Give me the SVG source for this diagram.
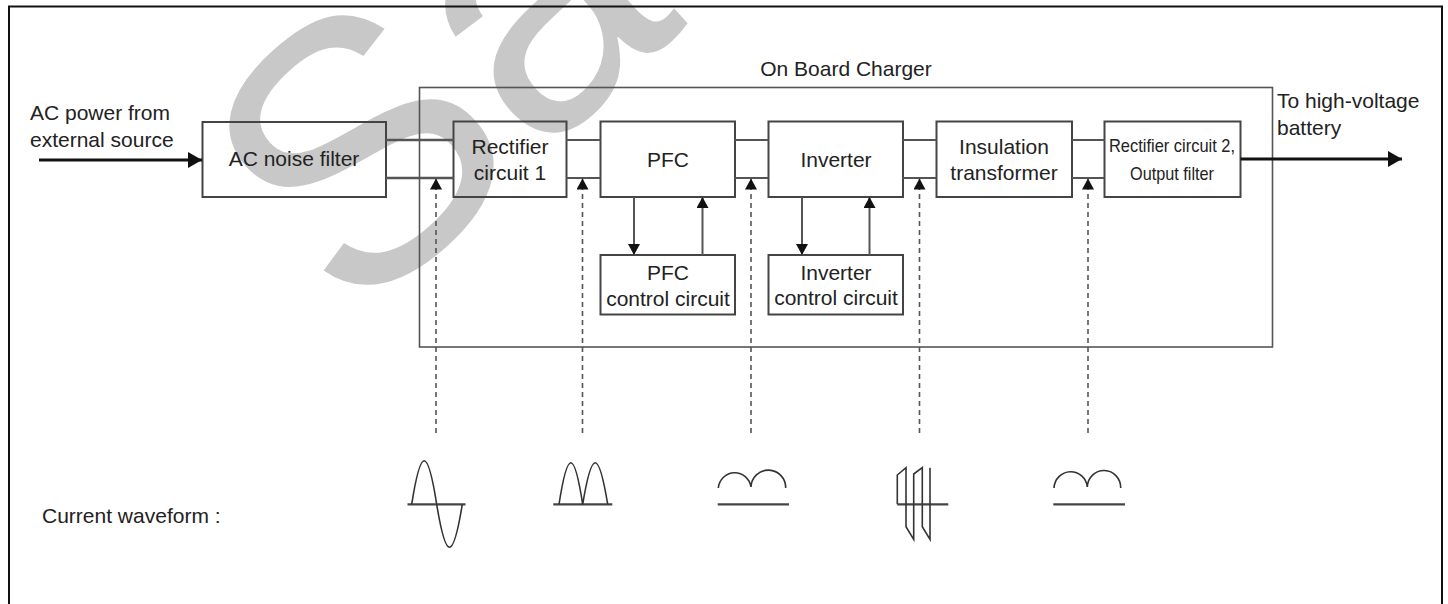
<svg xmlns="http://www.w3.org/2000/svg" width="1448" height="604" viewBox="0 0 1448 604">
<style>
text{font-family:"Liberation Sans",Arial,sans-serif;font-size:21px;fill:#222}
.c{text-anchor:middle}
.box{fill:none;stroke:#444;stroke-width:2}
.ln{fill:none;stroke:#555;stroke-width:2}
.dash{fill:none;stroke:#555;stroke-width:1.6;stroke-dasharray:5 4}
.wave{fill:none;stroke:#333;stroke-width:1.6}
.axis{fill:none;stroke:#444;stroke-width:2.2}
</style>
<defs>
<marker id="ah" markerUnits="userSpaceOnUse" markerWidth="12" markerHeight="12" refX="11" refY="6" orient="auto">
<path d="M0,0 L11,6 L0,12 Z" fill="#111"/>
</marker>
<marker id="big" markerUnits="userSpaceOnUse" markerWidth="15" markerHeight="16" refX="14" refY="8" orient="auto">
<path d="M0,0 L14,8 L0,16 Z" fill="#111"/>
</marker>
</defs>
<rect width="1448" height="604" fill="#fff"/>
<text x="352" y="327" transform="rotate(-42 352 327)" style="font-size:370px;fill:#c8c8c8">Sa</text>
<path d="M9,606 V6.5 H1442 V606" fill="none" stroke="#111" stroke-width="2"/>

<g id="obc">
<rect class="box" x="419.5" y="87.5" width="853" height="259.5" style="stroke:#555;stroke-width:1.6"/>
<text class="c" x="846" y="76">On Board Charger</text>
</g>
<g id="input-label">
<text x="30" y="120">AC power from</text>
<text x="30" y="146.5">external source</text>
</g>
<g id="output-label">
<text x="1277" y="108">To high-voltage</text>
<text x="1277" y="135">battery</text>
</g>
<g id="ac-noise-filter">
<rect class="box" x="202.5" y="122" width="183.5" height="75"/>
<text class="c" x="294" y="166">AC noise filter</text>
</g>
<g id="rectifier1">
<rect class="box" x="453.5" y="121.5" width="113" height="75.5"/>
<text class="c" x="510" y="153.5">Rectifier</text>
<text class="c" x="510" y="180">circuit 1</text>
</g>
<g id="pfc">
<rect class="box" x="600.5" y="121.5" width="134.5" height="75.5"/>
<text class="c" x="668" y="166.5">PFC</text>
</g>
<g id="inverter">
<rect class="box" x="768.5" y="121.5" width="134.5" height="75.5"/>
<text class="c" x="836" y="167">Inverter</text>
</g>
<g id="insulation-transformer">
<rect class="box" x="936.5" y="121.5" width="135.5" height="75.5"/>
<text class="c" x="1004" y="153.5">Insulation</text>
<text class="c" x="1004" y="180">transformer</text>
</g>
<g id="rectifier2">
<rect class="box" x="1104.5" y="121.5" width="136" height="75.5"/>
<text class="c" x="1172" y="152" style="font-size:19px" textLength="126" lengthAdjust="spacingAndGlyphs">Rectifier circuit 2,</text>
<text class="c" x="1172" y="180" style="font-size:19px" textLength="84" lengthAdjust="spacingAndGlyphs">Output filter</text>
</g>
<g id="pfc-control">
<rect class="box" x="600.5" y="255" width="134.5" height="59.5"/>
<text class="c" x="668" y="280">PFC</text>
<text class="c" x="668" y="306">control circuit</text>
</g>
<g id="inverter-control">
<rect class="box" x="768.5" y="255" width="134.5" height="59.5"/>
<text class="c" x="836" y="279.5">Inverter</text>
<text class="c" x="836" y="305">control circuit</text>
</g>
<g id="waveform-label">
<text x="42" y="523">Current waveform :</text>
</g>

<g id="connectors">
<line x1="39" y1="160" x2="202" y2="160" stroke="#111" stroke-width="3.2" marker-end="url(#big)"/>
<line x1="1240.5" y1="159" x2="1402" y2="159" stroke="#111" stroke-width="3.2" marker-end="url(#big)"/>
<path class="ln" d="M386,140 H453.5 M386,178 H453.5" style="stroke-width:2.4"/>
<path class="ln" d="M566.5,140 H600.5 M566.5,178 H600.5"/>
<path class="ln" d="M735,140 H768.5 M735,178 H768.5"/>
<path class="ln" d="M903,140 H936.5 M903,178 H936.5"/>
<path class="ln" d="M1072,140 H1104.5 M1072,178 H1104.5"/>
<line class="ln" x1="634" y1="197" x2="634" y2="255" marker-end="url(#ah)"/>
<line class="ln" x1="702.5" y1="255" x2="702.5" y2="197" marker-end="url(#ah)"/>
<line class="ln" x1="802" y1="197" x2="802" y2="255" marker-end="url(#ah)"/>
<line class="ln" x1="869.5" y1="255" x2="869.5" y2="197" marker-end="url(#ah)"/>
<line class="dash" x1="436" y1="433" x2="436" y2="178.5" marker-end="url(#ah)"/>
<line class="dash" x1="582.5" y1="433" x2="582.5" y2="178.5" marker-end="url(#ah)"/>
<line class="dash" x1="751" y1="433" x2="751" y2="178.5" marker-end="url(#ah)"/>
<line class="dash" x1="919.5" y1="433" x2="919.5" y2="178.5" marker-end="url(#ah)"/>
<line class="dash" x1="1088" y1="433" x2="1088" y2="178.5" marker-end="url(#ah)"/>
</g>

<g id="waveforms">
<line class="axis" x1="407.5" y1="504.3" x2="465.5" y2="504.3"/>
<path class="wave" d="M411.7,504.3 C420.8,446.2 427.6,446.2 436.7,504.3 C446,561.6 453,561.6 462.3,504.3"/>
<line class="axis" x1="553.3" y1="504.3" x2="612.3" y2="504.3"/>
<path class="wave" d="M559,504.3 C567.6,448.8 574.1,448.8 582.7,504.3 C591.8,448.8 598.6,448.8 607.7,504.3"/>
<line class="axis" x1="717.7" y1="504.3" x2="789" y2="504.3"/>
<path class="wave" d="M718.3,488 A16.5,17 0 0 1 751,487 A17,17 0 0 1 785.7,488"/>
<line class="axis" x1="897.3" y1="504.3" x2="948.3" y2="504.3"/>
<path class="wave" d="M897.3,504.3 V475 L906,467.7 V526.7 L913.7,539.3 V474 L922.3,467.7 V526.7 L930,539.3 V467.7"/>
<line class="axis" x1="1053.3" y1="504.3" x2="1125" y2="504.3"/>
<path class="wave" d="M1054,488 A16.7,17 0 0 1 1087.3,487 A16.7,17 0 0 1 1120.7,488"/>
</g>
</svg>
